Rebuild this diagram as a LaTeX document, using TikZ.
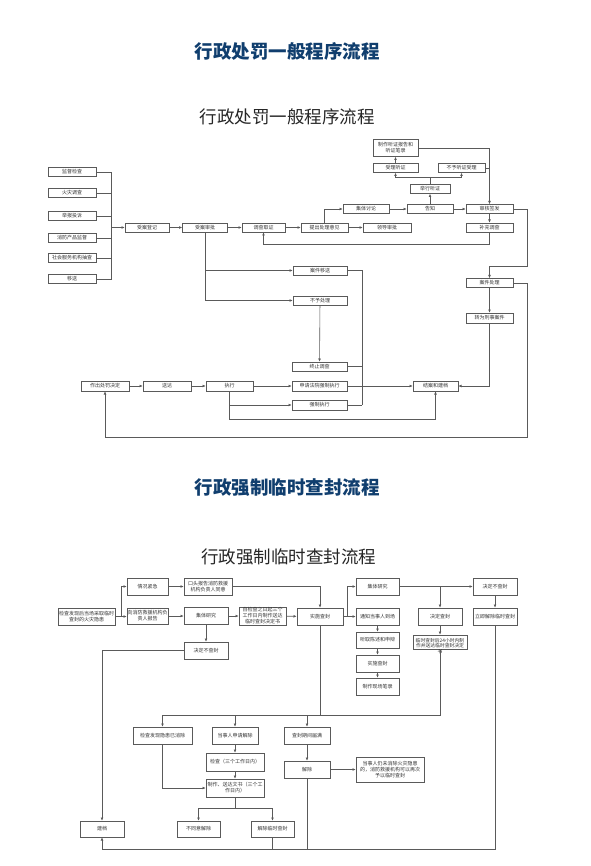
\documentclass[tikz,border=0pt]{standalone}
\usepackage{fontspec}
\newfontfamily\cjk{Noto Sans CJK SC}
\usetikzlibrary{arrows.meta}
\definecolor{lncol}{HTML}{5A5A5A}
\definecolor{ttl}{RGB}{16,62,110}
\definecolor{txtcol}{HTML}{333333}
\tikzset{
  bx/.style={draw=lncol, line width=0.6pt, fill=white, inner sep=0pt, font=\cjk\fontsize{5}{6}\selectfont, text=txtcol, align=center},
  txt/.style={inner sep=0pt, font=\cjk\fontsize{4.8}{5.8}\selectfont, text=txtcol, align=center},
  sz/.style 2 args={minimum width=#1pt, minimum height=#2pt},
  wire/.style={draw=lncol, line width=0.6pt},
  arr/.style={draw=lncol, line width=0.6pt, -{Latex[length=3.2pt,width=2.8pt]}},
  bigtitle/.style={font=\cjk\bfseries\fontsize{18.5}{20}\selectfont, text=ttl, inner sep=0pt},
  subtitle/.style={font=\cjk\fontsize{17.5}{19}\selectfont, text=black!85, inner sep=0pt},
}
\begin{document}
\begin{tikzpicture}[x=1pt,y=-1pt]
\fill[white] (0,0) rectangle (590,866);
\useasboundingbox (0,0) rectangle (590,866);

% titles
\node[bigtitle] (t1) at (287,51) {行政处罚一般程序流程};
\node[subtitle] (t2) at (287,117) {行政处罚一般程序流程};
\node[bigtitle] (t3) at (287,488) {行政强制临时查封流程};
\node[subtitle] (t4) at (288.5,557) {行政强制临时查封流程};

% ===== top chart =====
\node[bx,sz={48}{9}] (s1) at (72,172) {监督检查};
\node[bx,sz={48}{9}] (s2) at (72,193) {火灾调查};
\node[bx,sz={48}{9}] (s3) at (72,216) {举报投诉};
\node[bx,sz={48}{9}] (s4) at (72,238) {消防产品监督};
\node[bx,sz={48}{9}] (s5) at (72,258) {社会服务机构抽查};
\node[bx,sz={48}{9}] (s6) at (72,279) {移送};
\node[bx,sz={44}{9}] (djdj) at (147,227.5) {受案登记};
\node[bx,sz={45}{9}] (sasp) at (205,227.5) {受案审批};
\node[bx,sz={43}{9}] (dcqz) at (263.5,227.5) {调查取证};
\node[bx,sz={47}{9}] (tcyj) at (324.5,227.5) {提出处理意见};
\node[bx,sz={48}{9}] (ldsp) at (387,227.5) {领导审批};
\node[bx,sz={46}{9}] (jttl) at (366,209) {集体讨论};
\node[bx,sz={46}{9}] (gz) at (430,209) {告知};
\node[bx,sz={47}{9}] (shqf) at (489.5,209) {审核签发};
\node[bx,sz={47}{9}] (bcdc) at (489.5,227.5) {补充调查};
\node[bx,sz={40}{9}] (jxtz) at (430,189) {举行听证};
\node[bx,sz={45}{9}] (sltz) at (395.5,168) {受理听证};
\node[bx,sz={47}{9}] (bytz) at (461.5,168) {不予听证受理};
\node[bx,sz={45}{17}] (zztz) at (395.5,148) {制作听证报告和\\听证笔录};
\node[bx,sz={54}{9}] (ajys) at (320,270.5) {案件移送};
\node[bx,sz={54}{9}] (byc) at (320,300.5) {不予处理};
\node[bx,sz={47}{9}] (ajcl) at (489.5,283) {案件处理};
\node[bx,sz={47}{10}] (zwxs) at (489.5,318) {转为刑事案件};
\node[bx,sz={55}{9}] (zzdc) at (319.5,366.5) {终止调查};
\node[bx,sz={48}{10}] (zccf) at (105,386) {作出处罚决定};
\node[bx,sz={48}{10}] (sd) at (167,386) {送达};
\node[bx,sz={47}{10}] (zx) at (229.5,386) {执行};
\node[bx,sz={55}{10}] (sqfy) at (319.5,386) {申请法院强制执行};
\node[bx,sz={45}{10}] (jajd) at (435.5,386) {结案和建档};
\node[bx,sz={55}{10}] (qzzx) at (319.5,405) {强制执行};

\coordinate (bus) at (111,227.5);
\foreach \n in {s1,s2,s3,s4,s5,s6} \draw[wire] (\n.east) -| (bus);
\draw[arr] (bus) -- (djdj);
\draw[arr] (djdj) -- (sasp);
\draw[arr] (sasp) -- (dcqz);
\draw[arr] (dcqz) -- (tcyj);
\draw[arr] (tcyj) -- (ldsp);
\draw[arr] (tcyj.north) |- (jttl.west);
\draw[arr] (jttl) -- (gz);
\draw[arr] (gz) -- (shqf);
\draw[arr] (gz.north) -- (jxtz.south);
\coordinate (jx) at (430,177.5);
\draw[wire] (jxtz.north) -- (jx);
\draw[arr] (jx) -| (sltz.south);
\draw[arr] (jx) -| (bytz.south);
\draw[arr] (sltz.north) -- (zztz.south);
\draw[arr] (zztz.east) -| (shqf.north);
\draw[wire] (bytz.east) -- (bytz.east -| shqf.north);
\draw[arr] (shqf.south) -- (bcdc.north);
\coordinate (lp) at (489.5,244);
\draw[arr] (bcdc.south) -- (lp) -| (dcqz.south);
\coordinate (r1) at (527,266);
\draw[arr] (shqf.east) -| (r1) -| (ajcl.north);
\draw[arr] (ajcl) -- (zwxs);
\coordinate (r2) at (527,437);
\draw[arr] (ajcl.east) -| (r2) -| (zccf.south);
\draw[arr] (zwxs.south) |- (jajd.east);
\draw[arr] (sasp.south) |- (ajys.west);
\draw[arr] (sasp.south) |- (byc.west);
\draw[arr] (byc) -- (zzdc);
\coordinate (m1) at (362,405);
\draw[wire] (ajys.east) -| (m1);
\draw[wire] (zzdc.east) -- (zzdc.east -| m1);
\draw[wire] (qzzx.east) -- (m1);
\draw[arr] (zccf) -- (sd);
\draw[arr] (sd) -- (zx);
\draw[arr] (zx) -- (sqfy);
\draw[arr] (sqfy) -- (jajd);
\draw[arr] (zx.south) |- (qzzx.west);
\coordinate (b1) at (229.5,419);
\draw[arr] (zx.south) -- (b1) -| (jajd.south);

% ===== bottom chart =====
\node[bx,sz={57}{17}] (jcfx) at (86.5,616.5) {检查发现后当场采取临时\\查封的火灾隐患};
\node[bx,sz={41}{17}] (qkjj) at (147.5,586.5) {情况紧急};
\node[bx,sz={48}{17}] (ktbg) at (208,586.5) {口头报告消防救援\\机构负责人同意};
\node[bx,sz={41}{16}] (xfbg) at (147.5,616) {向消防救援机构负\\责人报告};
\node[bx,sz={44}{17}] (jtyj1) at (206,616) {集体研究};
\node[bx,sz={47}{18}] (zjcz) at (262.5,616) {自检查之日起三个\\工作日内制作送达\\临时查封决定书};
\node[bx,sz={44}{17}] (jdbcf1) at (206,650.5) {决定不查封};
\node[bx,sz={46}{17}] (sscf1) at (320,616.5) {实施查封};
\node[bx,sz={43}{17}] (jtyj2) at (377.5,586.5) {集体研究};
\node[bx,sz={43}{17}] (tzds) at (377.5,616.5) {通知当事人到场};
\node[bx,sz={43}{16}] (tqcs) at (377.5,640) {听取陈述和申辩};
\node[bx,sz={43}{17}] (sscf2) at (377.5,663.5) {实施查封};
\node[bx,sz={43}{17}] (zzxc) at (377.5,686.5) {制作现场笔录};
\node[bx,sz={44}{17}] (jdcf) at (440,616.5) {决定查封};
\node[bx,sz={54}{14}] (lscf) at (440,642) {};
\node[txt] (lscft) at (440,646) {临时查封后24小时内制\\作并送达临时查封决定\\书};
\node[bx,sz={44}{17}] (jdbcf2) at (495,586.5) {决定不查封};
\node[bx,sz={44}{17}] (ljjc) at (495,616.5) {立即解除临时查封};
\node[bx,sz={59}{17}] (jcyx) at (162.5,735.5) {检查发现隐患已消除};
\node[bx,sz={46}{17}] (dsrsq) at (235,735.5) {当事人申请解除};
\node[bx,sz={46}{17}] (cfqj) at (307,735.5) {查封期间届满};
\node[bx,sz={58}{18}] (jc3) at (235,762) {检查（三个工作日内）};
\node[bx,sz={58}{18}] (zzsd) at (235,788) {制作、送达文书（三个工\\作日内）};
\node[bx,sz={43}{16}] (btyjc) at (198.5,829) {不同意解除};
\node[bx,sz={43}{16}] (jclscf) at (272.5,829) {解除临时查封};
\node[bx,sz={46}{17}] (jc) at (307,769.5) {解除};
\node[bx,sz={68}{25}] (dsrw) at (390,769.5) {当事人仍未消除火灾隐患\\的，消防救援机构可以再次\\予以临时查封};
\node[bx,sz={44}{16}] (jd) at (102,829) {建档};

\coordinate (c1) at (121,616.5);
\draw[wire] (jcfx.east) -- (c1);
\draw[arr] (c1) |- (qkjj.west);
\draw[arr] (c1) -- (c1 -| xfbg.west);
\draw[arr] (qkjj) -- (ktbg);
\draw[arr] (ktbg.east) -| (sscf1.north);
\draw[arr] (xfbg) -- (jtyj1);
\draw[arr] (jtyj1) -- (zjcz);
\draw[arr] (zjcz) -- (sscf1);
\draw[arr] (jtyj1) -- (jdbcf1);
\draw[arr] (jdbcf1.west) -| (jd.north);
\coordinate (c2) at (347,616.5);
\draw[wire] (sscf1.east) -- (c2);
\draw[arr] (c2) |- (jtyj2.west);
\draw[arr] (c2) -- (tzds.west);
\draw[arr] (tzds) -- (tqcs);
\draw[arr] (tqcs) -- (sscf2);
\draw[arr] (sscf2) -- (zzxc);
\draw[arr] (jtyj2) -- (jdbcf2);
\draw[arr] (jtyj2.east -| jdcf.north) -- (jdcf.north);
\draw[arr] (jdbcf2) -- (ljjc);
\draw[arr] (jdcf) -- (lscf);
\coordinate (h1) at (440,715);
\coordinate (h0) at (162.5,715);
\draw[wire] (lscf.south) -- (h1) -- (h0);
\draw[wire] (sscf1.south) -- (sscf1.south |- h1);
\draw[arr] (h0) -- (jcyx.north);
\draw[arr] (dsrsq.north |- h1) -- (dsrsq.north);
\draw[arr] (cfqj.north |- h1) -- (cfqj.north);
\draw[arr] (jcyx.south) |- (zzsd.west);
\draw[arr] (dsrsq) -- (jc3);
\draw[arr] (jc3) -- (zzsd);
\coordinate (h2) at (235,808);
\draw[wire] (zzsd.south) -- (h2);
\draw[arr] (h2) -| (btyjc.north);
\draw[arr] (h2) -| (jclscf.north);
\draw[arr] (cfqj) -- (jc);
\draw[arr] (jc) -- (dsrw);
\coordinate (h3) at (495,849);
\draw[arr] (ljjc.south) -- (h3) -| (jd.south);
\draw[wire] (jclscf.south) -- (jclscf.south |- h3);
\draw[wire] (jc.south) -- (jc.south |- h3);
\end{tikzpicture}
\end{document}
